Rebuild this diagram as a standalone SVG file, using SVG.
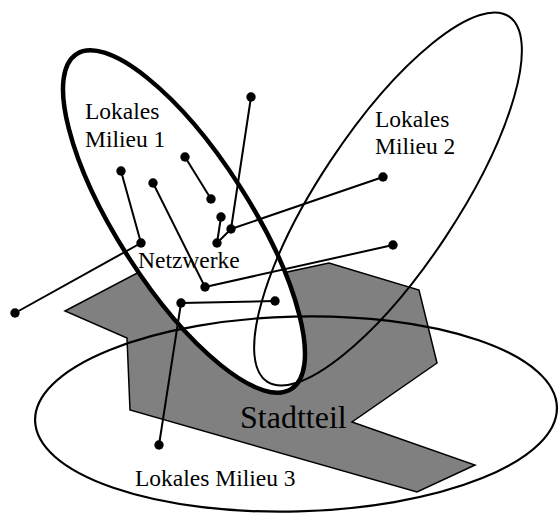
<svg xmlns="http://www.w3.org/2000/svg" width="558" height="516" viewBox="0 0 558 516">
<style>
.lbl{font-family:"Liberation Serif","Times New Roman",serif;font-size:23.5px;fill:#000}
.big{font-family:"Liberation Serif","Times New Roman",serif;font-size:32px;fill:#000}
.edge{stroke:#000;stroke-width:2;fill:none}
.dot{fill:#000}
</style>
<rect width="558" height="516" fill="#fff"/>
<g id="stadtteil-area">
<polygon points="65,311 160,261 250,280 329,263 419,290 437,363 352,422 475,465 417,492 130,410 127,338" fill="#808080" stroke="#000" stroke-width="1.5" stroke-linejoin="miter"/>
</g>
<g id="milieu1-fill">
<ellipse cx="184" cy="221.5" rx="199" ry="66" transform="rotate(57.3 184 221.5)" fill="#fff" stroke="none"/>
</g>
<g id="milieu3">
<ellipse cx="296" cy="414" rx="261" ry="97.5" transform="rotate(-1.5 296 414)" fill="none" stroke="#000" stroke-width="2.2"/>
<text class="lbl" x="135" y="486">Lokales Milieu 3</text>
</g>
<g id="milieu2">
<ellipse cx="388" cy="199" rx="219" ry="69" transform="rotate(-56.5 388 199)" fill="none" stroke="#000" stroke-width="2"/>
<text class="lbl" x="375" y="127">Lokales</text>
<text class="lbl" x="375" y="154">Milieu 2</text>
</g>
<g id="milieu1">
<ellipse cx="184" cy="221.5" rx="199" ry="66" transform="rotate(57.3 184 221.5)" fill="none" stroke="#000" stroke-width="4.5"/>
<text class="lbl" x="85" y="119">Lokales</text>
<text class="lbl" x="85" y="147">Milieu 1</text>
</g>
<g id="stadtteil">
<text class="big" x="240" y="428">Stadtteil</text>
</g>
<g id="netzwerke">
<text class="lbl" x="138" y="268">Netzwerke</text>
</g>
<g id="connectors" class="edge">
<line x1="251" y1="97" x2="231" y2="229"/>
<line x1="121" y1="171" x2="141" y2="243"/>
<line x1="153" y1="183" x2="205" y2="287"/>
<line x1="185" y1="157" x2="211" y2="199"/>
<line x1="221" y1="217" x2="217" y2="243"/>
<line x1="217" y1="243" x2="231" y2="229"/>
<line x1="231" y1="229" x2="383" y2="177"/>
<line x1="205" y1="287" x2="393" y2="245"/>
<line x1="141" y1="243" x2="15" y2="313"/>
<line x1="181" y1="303" x2="275" y2="301"/>
<line x1="181" y1="303" x2="159" y2="445"/>
</g>
<g id="dots" class="dot">
<circle cx="251" cy="97" r="4.7"/>
<circle cx="121" cy="171" r="4.7"/>
<circle cx="153" cy="183" r="4.7"/>
<circle cx="185" cy="157" r="4.7"/>
<circle cx="211" cy="199" r="4.7"/>
<circle cx="221" cy="217" r="4.7"/>
<circle cx="231" cy="229" r="4.7"/>
<circle cx="217" cy="243" r="4.7"/>
<circle cx="141" cy="243" r="4.7"/>
<circle cx="205" cy="287" r="4.7"/>
<circle cx="383" cy="177" r="4.7"/>
<circle cx="393" cy="245" r="4.7"/>
<circle cx="15" cy="313" r="4.7"/>
<circle cx="181" cy="303" r="4.7"/>
<circle cx="275" cy="301" r="4.7"/>
<circle cx="159" cy="445" r="4.7"/>
</g>
</svg>
